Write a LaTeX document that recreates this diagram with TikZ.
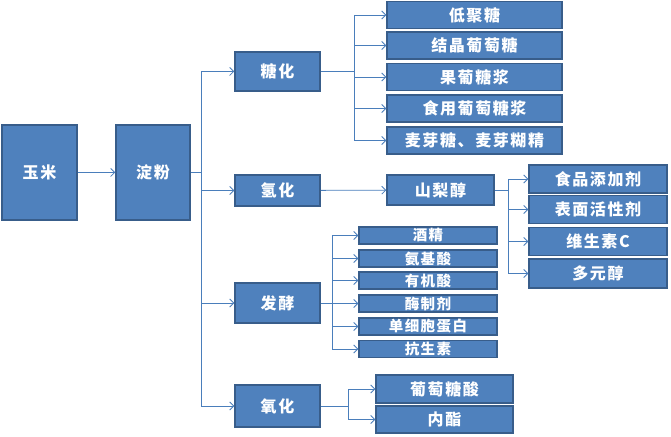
\documentclass[tikz,border=0pt]{standalone}
\usepackage{fontspec}
\setmainfont{Noto Sans CJK SC}[LetterSpace=10]
\usetikzlibrary{arrows.meta}
\definecolor{boxfill}{HTML}{4F81BD}
\definecolor{boxline}{HTML}{385D8A}
\definecolor{conn}{HTML}{4A7EBB}
\tikzset{
  box/.style={rectangle, fill=boxfill, draw=boxline, line width=1.5bp, text=white, inner sep=0pt, font=\fontsize{16bp}{18bp}\selectfont\bfseries},
  smallbox/.style={box, font=\fontsize{14.5bp}{16bp}\selectfont\bfseries},
  conline/.style={draw=conn, line width=0.8bp},
  arr/.style={conline, -{Straight Barb[length=4bp,width=8bp]}},
}
\begin{document}
\begin{tikzpicture}[x=1bp,y=-1bp]
\useasboundingbox (0,0) rectangle (671,437);
% main chain
\node[box, minimum width=75bp, minimum height=95bp] (yumi) at (39.5,172.5) {玉米};
\node[box, minimum width=74bp, minimum height=95bp] (dianfen) at (153,172.5) {淀粉};
% processes
\node[box, minimum width=85bp, minimum height=39bp] (tanghua) at (277.5,71.5) {糖化};
\node[box, minimum width=85bp, minimum height=31bp] (qinghua) at (277.5,190.5) {氢化};
\node[box, minimum width=85bp, minimum height=40bp] (fajiao) at (277.5,303) {发酵};
\node[box, minimum width=85bp, minimum height=42bp] (yanghua) at (277.5,406) {氧化};
% saccharification products
\node[box, minimum width=175bp, minimum height=27bp] (t1) at (474.5,15) {低聚糖};
\node[box, minimum width=175bp, minimum height=27bp] (t2) at (474.5,45.5) {结晶葡萄糖};
\node[box, minimum width=175bp, minimum height=27bp] (t3) at (474.5,77) {果葡糖浆};
\node[box, minimum width=175bp, minimum height=27bp] (t4) at (474.5,108.5) {食用葡萄糖浆};
\node[box, minimum width=175bp, minimum height=27bp] (t5) at (474.5,140.5) {麦芽糖、麦芽糊精};
% sorbitol
\node[box, minimum width=107bp, minimum height=30bp] (shanli) at (440.5,190) {山梨醇};
\node[box, minimum width=138bp, minimum height=28bp] (s1) at (598,179) {食品添加剂};
\node[box, minimum width=138bp, minimum height=28bp] (s2) at (598,209.5) {表面活性剂};
\node[box, minimum width=138bp, minimum height=28bp] (s3) at (598,241.5) {维生素C};
\node[box, minimum width=138bp, minimum height=29bp] (s4) at (598,273.5) {多元醇};
% fermentation products
\node[smallbox, minimum width=138bp, minimum height=17bp] (f1) at (428,235.5) {酒精};
\node[smallbox, minimum width=138bp, minimum height=17bp] (f2) at (428,258.5) {氨基酸};
\node[smallbox, minimum width=138bp, minimum height=17bp] (f3) at (428,280.5) {有机酸};
\node[smallbox, minimum width=138bp, minimum height=17bp] (f4) at (428,303.5) {酶制剂};
\node[smallbox, minimum width=138bp, minimum height=17bp] (f5) at (428,326.5) {单细胞蛋白};
\node[smallbox, minimum width=138bp, minimum height=17bp] (f6) at (428,349) {抗生素};
% oxidation products
\node[box, minimum width=137bp, minimum height=28bp] (o1) at (444.5,389) {葡萄糖酸};
\node[box, minimum width=137bp, minimum height=27bp] (o2) at (444.5,419.5) {内酯};
% connectors
\draw[arr] (yumi) -- (dianfen);
\coordinate (tk) at (201,0);
\draw[conline] (dianfen.east) -- (tk |- dianfen.east);
\draw[conline] (tk |- tanghua.west) -- (tk |- yanghua.west);
\foreach \n in {tanghua,qinghua,fajiao,yanghua}
  \draw[arr] (tk |- \n.west) -- (\n.west);
% saccharification bracket
\coordinate (bt) at (354,0);
\draw[conline] (tanghua.east) -- (bt |- tanghua.east);
\draw[conline] (bt |- t1.west) -- (bt |- t5.west);
\foreach \n in {t1,t2,t3,t4,t5}
  \draw[arr] (bt |- \n.west) -- (\n.west);
% hydrogenation
\draw[arr] (qinghua) -- (shanli);
\coordinate (bs) at (508,0);
\draw[conline] (shanli.east) -- (bs |- shanli.east);
\draw[conline] (bs |- s1.west) -- (bs |- s4.west);
\foreach \n in {s1,s2,s3,s4}
  \draw[arr] (bs |- \n.west) -- (\n.west);
% fermentation bracket
\coordinate (bf) at (332,0);
\draw[conline] (fajiao.east) -- (bf |- fajiao.east);
\draw[conline] (bf |- f1.west) -- (bf |- f6.west);
\foreach \n in {f1,f2,f3,f4,f5,f6}
  \draw[arr] (bf |- \n.west) -- (\n.west);
% oxidation bracket
\coordinate (bo) at (348,0);
\draw[conline] (yanghua.east) -- (bo |- yanghua.east);
\draw[conline] (bo |- o1.west) -- (bo |- o2.west);
\foreach \n in {o1,o2}
  \draw[arr] (bo |- \n.west) -- (\n.west);
\end{tikzpicture}
\end{document}
